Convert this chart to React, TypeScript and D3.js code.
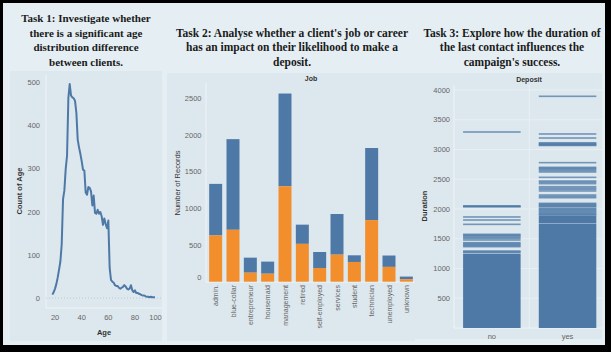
import React from 'react';
import * as d3 from 'd3';

const W = 611;
const H = 352;
const BLUE = '#4e79a7';
const ORANGE = '#f28e2b';
const PANEL = '#dde8ee';
const OUTER = '#e5eef3';
const GRID = '#e8eff4';
const TICK = '#666';
const TITLE = '#333';
const SANS = '"Liberation Sans", Arial, sans-serif';
const SERIF = '"Liberation Serif", "Times New Roman", serif';

// ---- Task titles ----
const title1 = ['Task 1: Investigate whether', 'there is a significant age', 'distribution difference', 'between clients.'];
const title2 = ["Task 2: Analyse whether a client's job or career", 'has an impact on their likelihood to make a', 'deposit.'];
const title3 = ['Task 3: Explore how the duration of', 'the last contact influences the', "campaign's success."];

// ---- Chart 1: count of age ----
const ages = [18, 19, 20, 21, 22, 23, 24, 25, 26, 27, 28, 29, 30, 31, 32, 33, 34, 35, 36, 37, 38, 39, 40, 41, 42, 43, 44, 45, 46, 47, 48, 49, 50, 51, 52, 53, 54, 55, 56, 57, 58, 59, 60, 61, 62, 63, 64, 65, 66, 67, 68, 69, 70, 71, 72, 73, 74, 75, 76, 77, 78, 79, 80, 81, 82, 83, 84, 85, 86, 87, 88, 89, 90, 91, 92, 93, 94, 95];
const ageCounts = [8, 14, 22, 33, 48, 66, 85, 125, 230, 250, 300, 330, 465, 497, 470, 466, 464, 458, 430, 368, 350, 335, 318, 298, 296, 245, 240, 258, 256, 248, 215, 238, 198, 196, 205, 196, 200, 190, 170, 185, 172, 162, 180, 70, 42, 38, 36, 30, 28, 28, 24, 22, 24, 26, 30, 27, 22, 20, 22, 30, 18, 14, 18, 12, 12, 10, 9, 7, 6, 6, 4, 3, 3, 2, 3, 2, 2, 2];
const ageTicksY = [0, 100, 200, 300, 400, 500];
const ageTicksX = [20, 40, 60, 80, 100];

// ---- Chart 2: job ----
const jobs = ['admin.', 'blue-collar', 'entrepreneur', 'housemaid', 'management', 'retired', 'self-employed', 'services', 'student', 'technician', 'unemployed', 'unknown'];
const jobTotal = [1334, 1944, 328, 274, 2566, 778, 405, 923, 360, 1823, 357, 70];
const jobYes = [631, 708, 123, 109, 1301, 516, 187, 369, 269, 840, 202, 34];
const jobTicks = [0, 500, 1000, 1500, 2000, 2500];

// ---- Chart 3: duration by deposit ----
const depositCats = ['no', 'yes'];
const noDurations = [3294, 2053, 2045, 2037, 1866, 1815, 1742, 1574, 1560, 1545, 1524, 1505, 1479, 1434, 1418, 1401, 1385, 1367, 1294, 1280, 1266];
const yesDurations = [3894, 3261, 3193, 3112, 3100, 3088, 3076, 3068, 2779, 2700, 2685, 2667, 2645, 2622, 2532, 2470, 2450, 2426, 2375, 2352, 2330, 2303, 2235, 2212, 2190, 2095, 2080, 2065, 2050, 2039, 2011, 1995, 1978, 1960, 1942, 1925, 1910, 1899];
const noDense: [number, number][] = [[0, 1246]];
const yesDense: [number, number][] = [[0, 1756], [1763, 1888]];
const durTicks = [500, 1000, 1500, 2000, 2500, 3000, 3500, 4000];

function TitleBlock({ lines, cx, y0, size }: { lines: string[]; cx: number; y0: number; size: number }) {
  return (
    <text x={cx} y={y0} textAnchor="middle" fontFamily={SERIF} fontWeight="bold" fontSize={size} fill="#1a1a1a">
      {lines.map((l, i) => (
        <tspan key={i} x={cx} y={y0 + i * 14.5}>{l}</tspan>
      ))}
    </text>
  );
}

export default function App() {
  // Chart 1 scales
  const x1 = d3.scaleLinear().domain([13.2, 100.3]).range([46, 162]);
  const y1 = d3.scaleLinear().domain([-23, 518]).range([308, 75]);
  const ageLine = d3.line<number>().x((_, i) => x1(ages[i])).y((d) => y1(d));

  // Chart 2 scales
  const x2 = d3.scaleBand<string>().domain(jobs).range([207, 415]).paddingInner(0.25).paddingOuter(0.125);
  const y2 = d3.scaleLinear().domain([0, 2700]).range([281.7, 83.7]);

  // Chart 3 scales
  const x3 = d3.scaleBand<string>().domain(depositCats).range([454, 605.4]).paddingInner(0.24).paddingOuter(0.12);
  const y3 = d3.scaleLinear().domain([0, 4084]).range([328, 85]);
  const durSets: Record<string, number[]> = { no: noDurations, yes: yesDurations };
  const denseSets: Record<string, [number, number][]> = { no: noDense, yes: yesDense };

  return (
    <svg width={W} height={H} style={{ position: 'absolute', left: 0, top: 0 }}>
      <rect x={0} y={0} width={W} height={H} fill="#000" />
      <rect x={3} y={3} width={602} height={342} fill={OUTER} />

      {/* panels */}
      <rect x={10} y={71} width={152} height={270} fill={PANEL} />
      <rect x={167} y={73} width={248} height={268} fill={PANEL} />
      <rect x={415} y={73} width={187} height={266} fill={PANEL} />

      <TitleBlock lines={title1} cx={86} y0={22} size={11} />
      <TitleBlock lines={title2} cx={292} y0={36.5} size={11.5} />
      <TitleBlock lines={title3} cx={512} y0={36.5} size={11.5} />

      {/* ---- Chart 1 ---- */}
      <g>
        <line x1={46} x2={46} y1={75} y2={308} stroke="#eef3f6" strokeWidth={1} />
        <line x1={46} x2={162} y1={308} y2={308} stroke="#eef3f6" strokeWidth={1} />
        <line x1={46} x2={162} y1={y1(0)} y2={y1(0)} stroke="#b8c2c8" strokeWidth={0.8} strokeDasharray="1,2" />
        {ageTicksY.map((t) => (
          <text key={t} x={40} y={y1(t) + 2.6} textAnchor="end" fontFamily={SANS} fontSize={7.5} fill={TICK}>{t}</text>
        ))}
        {ageTicksX.map((t) => (
          <text key={t} x={t === 100 ? Math.min(x1(t), 155.5) : x1(t)} y={320} textAnchor="middle" fontFamily={SANS} fontSize={7.5} fill={TICK}>{t}</text>
        ))}
        <text x={104} y={335} textAnchor="middle" fontFamily={SANS} fontSize={7.5} fontWeight="bold" fill={TITLE}>Age</text>
        <text transform={`translate(21.5,${191}) rotate(-90)`} textAnchor="middle" fontFamily={SANS} fontSize={7.5} fontWeight="bold" fill={TITLE}>Count of Age</text>
        <path d={ageLine(ageCounts) || ''} fill="none" stroke={BLUE} strokeWidth={2} strokeLinejoin="round" />
      </g>

      {/* ---- Chart 2 ---- */}
      <g>
        <text x={311} y={81} textAnchor="middle" fontFamily={SANS} fontSize={7} fontWeight="bold" fill={TITLE}>Job</text>
        <line x1={206} x2={206} y1={83} y2={282} stroke="#eef3f6" strokeWidth={1} />
        <line x1={206} x2={415} y1={282} y2={282} stroke="#eef3f6" strokeWidth={1} />
        {jobTicks.map((t) => (
          <text key={t} x={201.5} y={(t === 0 ? y2(t) - 4 : y2(t)) + 2.6} textAnchor="end" fontFamily={SANS} fontSize={7.5} fill={TICK}>{t}</text>
        ))}
        <text transform={`translate(179.5,${183}) rotate(-90)`} textAnchor="middle" fontFamily={SANS} fontSize={7.5} fill={TITLE}>Number of Records</text>
        {jobs.map((j, i) => (
          <g key={j}>
            <rect x={x2(j)} y={y2(jobTotal[i])} width={x2.bandwidth()} height={y2(jobYes[i]) - y2(jobTotal[i])} fill={BLUE} />
            <rect x={x2(j)} y={y2(jobYes[i])} width={x2.bandwidth()} height={y2(0) - y2(jobYes[i])} fill={ORANGE} />
            <text transform={`translate(${(x2(j) || 0) + x2.bandwidth() / 2 + 2.5},285) rotate(-90)`} textAnchor="end" fontFamily={SANS} fontSize={7} fill={TICK}>{j}</text>
          </g>
        ))}
      </g>

      {/* ---- Chart 3 ---- */}
      <g>
        <text x={529} y={82} textAnchor="middle" fontFamily={SANS} fontSize={7} fontWeight="bold" fill={TITLE}>Deposit</text>
        {durTicks.map((t) => (
          <line key={t} x1={454} x2={602} y1={y3(t)} y2={y3(t)} stroke={GRID} strokeWidth={1} />
        ))}
        <line x1={529.3} x2={529.3} y1={85} y2={328} stroke={GRID} strokeWidth={1} />
        <line x1={454} x2={454} y1={85} y2={328} stroke="#eef3f6" strokeWidth={1} />
        <line x1={454} x2={602} y1={328} y2={328} stroke="#eef3f6" strokeWidth={1} />
        {durTicks.map((t) => (
          <text key={t} x={450} y={y3(t) + 2.6} textAnchor="end" fontFamily={SANS} fontSize={7.5} fill={TICK}>{t}</text>
        ))}
        <text transform={`translate(426.5,${206}) rotate(-90)`} textAnchor="middle" fontFamily={SANS} fontSize={7.5} fontWeight="bold" fill={TITLE}>Duration</text>
        {depositCats.map((c) => (
          <g key={c}>
            {denseSets[c].map(([lo, hi], k) => (
              <rect key={'d' + k} x={x3(c)} y={y3(hi)} width={x3.bandwidth()} height={y3(lo) - y3(hi)} fill={BLUE} />
            ))}
            {durSets[c].map((v, k) => (
              <rect key={'l' + k} x={x3(c)} y={y3(v) - 0.8} width={x3.bandwidth()} height={1.6} fill={BLUE} opacity={0.75} />
            ))}
            <text x={(x3(c) || 0) + x3.bandwidth() / 2} y={338.5} textAnchor="middle" fontFamily={SANS} fontSize={7.5} fill={TICK}>{c}</text>
          </g>
        ))}
      </g>
    </svg>
  );
}
